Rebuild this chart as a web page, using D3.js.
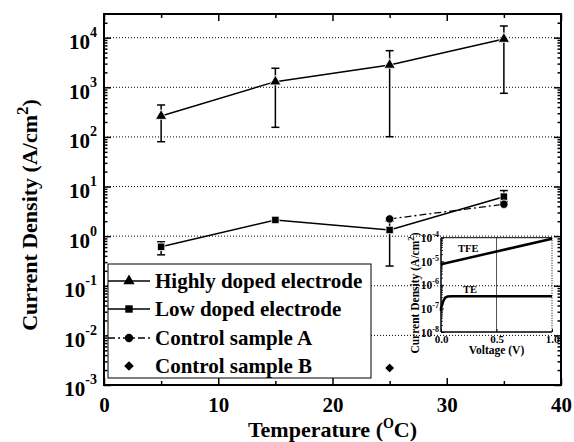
<!DOCTYPE html>
<html>
<head>
<meta charset="utf-8">
<script src="https://cdn.jsdelivr.net/npm/d3@7"></script>
<style>
body { margin: 0; background: #fff; }
svg, svg text { font-family: "Liberation Serif", "Times New Roman", Times, serif; font-weight: bold; }
</style>
</head>
<body>
<svg id="chart" width="574" height="442" font-family="Liberation Serif, Times New Roman, serif" font-weight="bold"></svg>
<script>
// main plot data
const temps = [5, 15, 25, 35];
const highVals = [263, 1300, 2820, 9400];
const highErrLo = [80, 156, 101, 757];
const highErrHi = [440, 2420, 5470, 17200];
const lowVals = [0.61, 2.12, 1.33, 6.25];
const lowErrLo = [0.42, null, 0.25, 5.0];
const lowErrHi = [0.77, null, 2.0, 8.3];
const ctrlATemps = [25, 35];
const ctrlAVals = [2.22, 4.4];
const ctrlBTemps = [25];
const ctrlBVals = [0.0022];

const xTicks = [0, 10, 20, 30, 40];
const xMinorTicks = [5, 15, 25, 35];
const yDecades = [1e-3, 1e-2, 1e-1, 1, 10, 100, 1e3, 1e4];

const legendLabels = ["Highly doped electrode", "Low doped electrode", "Control sample A", "Control sample B"];

// inset data
const tfeV = [0, 0.5, 1.0];
const tfeJ = [7.5e-6, 2.6e-5, 9e-5];
const teV = [0, 0, 0.006, 0.021, 0.039, 0.06, 0.1, 1.0];
const teJ = [8e-8, 1.05e-7, 1.2e-7, 2.1e-7, 2.9e-7, 3.2e-7, 3.3e-7, 3.3e-7];
const insetDecades = [1e-8, 1e-7, 1e-6, 1e-5, 1e-4];
const insetXTicks = [0, 0.5, 1.0];

const FONT = "Liberation Serif, Times New Roman, serif";

const svg = d3.select("#chart");

const x = d3.scaleLinear().domain([0, 40]).range([104, 561]);
const y = d3.scaleLog().domain([1e-3, 3e4]).range([385, 14]);

// dotted grid
svg.append("g")
    .selectAll("line")
    .data(yDecades.filter(d => d > 1e-3))
    .join("line")
    .attr("x1", x(0)).attr("x2", x(40))
    .attr("y1", d => y(d)).attr("y2", d => y(d))
    .attr("stroke", "#000")
    .attr("stroke-width", 1)
    .attr("stroke-dasharray", "1,2");

// minor log ticks 2..9 per decade
let yMinor = [];
yDecades.forEach(d => {
    for (let k = 2; k <= 9; k++) {
        if (k * d < 3e4) yMinor.push(k * d);
    }
});

function styleAxis(g) {
    g.attr("font-family", FONT).attr("font-size", null);
    g.select(".domain").remove();
    g.selectAll(".tick line").attr("stroke", "#000").attr("stroke-width", 1.5);
}

// bottom axis
svg.append("g")
    .attr("transform", `translate(0,${y(1e-3)})`)
    .call(d3.axisBottom(x).tickValues(xTicks).tickSizeInner(-7).tickSizeOuter(0).tickPadding(12).tickFormat(d3.format("d")))
    .call(styleAxis)
    .call(g => g.selectAll(".tick text").attr("font-size", 21).attr("fill", "#000"));
svg.append("g")
    .attr("transform", `translate(0,${y(1e-3)})`)
    .call(d3.axisBottom(x).tickValues(xMinorTicks).tickSizeInner(-4).tickSizeOuter(0).tickFormat(""))
    .call(styleAxis);

// top axis
svg.append("g")
    .attr("transform", `translate(0,${y(3e4)})`)
    .call(d3.axisTop(x).tickValues(xTicks).tickSizeInner(-7).tickSizeOuter(0).tickFormat(""))
    .call(styleAxis);
svg.append("g")
    .attr("transform", `translate(0,${y(3e4)})`)
    .call(d3.axisTop(x).tickValues(xMinorTicks).tickSizeInner(-4).tickSizeOuter(0).tickFormat(""))
    .call(styleAxis);

// left axis with 10^n labels
svg.append("g")
    .attr("transform", `translate(${x(0)},0)`)
    .call(d3.axisLeft(y).tickValues(yDecades).tickSizeInner(-7).tickSizeOuter(0).tickPadding(7).tickFormat(d => d))
    .call(styleAxis)
    .call(g => g.selectAll(".tick text").each(function (d) {
        const t = d3.select(this).text(null).attr("font-size", 21).attr("fill", "#000").attr("dy", "0.52em");
        t.append("tspan").text("10");
        t.append("tspan").attr("font-size", 14).attr("dy", -12).text(Math.round(Math.log10(d)));
    }));
svg.append("g")
    .attr("transform", `translate(${x(0)},0)`)
    .call(d3.axisLeft(y).tickValues(yMinor).tickSizeInner(-3.5).tickSizeOuter(0).tickFormat(""))
    .call(styleAxis);

// right axis
svg.append("g")
    .attr("transform", `translate(${x(40)},0)`)
    .call(d3.axisRight(y).tickValues(yDecades).tickSizeInner(-7).tickSizeOuter(0).tickFormat(""))
    .call(styleAxis);
svg.append("g")
    .attr("transform", `translate(${x(40)},0)`)
    .call(d3.axisRight(y).tickValues(yMinor).tickSizeInner(-3.5).tickSizeOuter(0).tickFormat(""))
    .call(styleAxis);

// frame
svg.append("rect")
    .attr("x", x(0)).attr("y", y(3e4))
    .attr("width", x(40) - x(0)).attr("height", y(1e-3) - y(3e4))
    .attr("fill", "none").attr("stroke", "#000").attr("stroke-width", 2);

// axis titles
svg.append("text")
    .attr("x", (x(0) + x(40)) / 2).attr("y", 437)
    .attr("text-anchor", "middle").attr("font-size", 22)
    .call(t => {
        t.append("tspan").text("Temperature (");
        t.append("tspan").attr("font-size", 14).attr("dy", -9).text("O");
        t.append("tspan").attr("dy", 9).text("C)");
    });

svg.append("text")
    .attr("transform", "translate(37,215) rotate(-90)")
    .attr("text-anchor", "middle").attr("font-size", 22)
    .call(t => {
        t.append("tspan").text("Current Density (A/cm");
        t.append("tspan").attr("font-size", 17).attr("dy", -9).text("2");
        t.append("tspan").attr("dy", 9).text(")");
    });

// ---------- inset ----------
const xi = d3.scaleLinear().domain([0, 1]).range([441, 552]);
const yi = d3.scaleLog().domain([1e-8, 1e-4]).range([332, 237.7]);

const inset = svg.append("g");

inset.append("line")
    .attr("x1", xi(0.5)).attr("x2", xi(0.5)).attr("y1", yi(1e-4)).attr("y2", yi(1e-8))
    .attr("stroke", "#555").attr("stroke-width", 1);

inset.append("line")
    .attr("x1", xi(0)).attr("x2", xi(1)).attr("y1", yi(1e-4)).attr("y2", yi(1e-4))
    .attr("stroke", "#000").attr("stroke-width", 1);
inset.append("line")
    .attr("x1", xi(1)).attr("x2", xi(1)).attr("y1", yi(1e-4)).attr("y2", yi(1e-8))
    .attr("stroke", "#000").attr("stroke-width", 1).attr("stroke-dasharray", "1,1.5");

let yiMinor = [];
insetDecades.forEach(d => {
    for (let k = 2; k <= 9; k++) {
        if (k * d < 1e-4) yiMinor.push(k * d);
    }
});

inset.append("g")
    .attr("transform", `translate(${xi(0)},0)`)
    .call(d3.axisLeft(yi).tickValues(yiMinor).tickSizeInner(-2).tickSizeOuter(0).tickFormat(""))
    .call(styleAxis)
    .call(g => g.selectAll(".tick line").attr("stroke-width", 0.8));

inset.append("g")
    .attr("transform", `translate(${xi(0)},0)`)
    .call(d3.axisLeft(yi).tickValues(insetDecades).tickSizeInner(-3).tickSizeOuter(0).tickPadding(2).tickFormat(d => d))
    .call(styleAxis)
    .call(g => g.selectAll(".tick line").attr("stroke-width", 1))
    .call(g => g.selectAll(".tick text").each(function (d) {
        const t = d3.select(this).text(null).attr("font-size", 11.5).attr("fill", "#000").attr("dy", "0.35em");
        t.append("tspan").text("10");
        t.append("tspan").attr("font-size", 8).attr("dy", -5).text(Math.round(Math.log10(d)));
    }))
    .call(g => g.append("line")
        .attr("x1", 0).attr("x2", 0).attr("y1", yi(1e-4)).attr("y2", yi(1e-8))
        .attr("stroke", "#000").attr("stroke-width", 1.5));

inset.append("g")
    .attr("transform", `translate(0,${yi(1e-8)})`)
    .call(d3.axisBottom(xi).tickValues(insetXTicks).tickSizeInner(-3).tickSizeOuter(0).tickPadding(3).tickFormat(d3.format(".1f")))
    .call(styleAxis)
    .call(g => g.selectAll(".tick line").attr("stroke-width", 1))
    .call(g => g.selectAll(".tick text").attr("font-size", 11).attr("fill", "#000"))
    .call(g => g.append("line")
        .attr("x1", xi(0)).attr("x2", xi(1)).attr("y1", 0).attr("y2", 0)
        .attr("stroke", "#000").attr("stroke-width", 1.5));

const insetLine = d3.line().x(d => xi(d[0])).y(d => yi(d[1]));

inset.append("path")
    .attr("d", insetLine(d3.zip(tfeV, tfeJ)))
    .attr("fill", "none").attr("stroke", "#000").attr("stroke-width", 2.5);
inset.append("path")
    .attr("d", insetLine(d3.zip(teV, teJ)))
    .attr("fill", "none").attr("stroke", "#000").attr("stroke-width", 2.5);

inset.append("text").attr("x", 458).attr("y", 252).attr("font-size", 10.5).text("TFE");
inset.append("text").attr("x", 470).attr("y", 293).attr("font-size", 10.5).attr("text-anchor", "middle").text("TE");

inset.append("text")
    .attr("x", (xi(0) + xi(1)) / 2).attr("y", 354)
    .attr("text-anchor", "middle").attr("font-size", 11.5)
    .text("Voltage (V)");

inset.append("text")
    .attr("transform", "translate(419,293) rotate(-90)")
    .attr("text-anchor", "middle").attr("font-size", 11.5)
    .call(t => {
        t.append("tspan").text("Current Density (A/cm");
        t.append("tspan").attr("font-size", 9).attr("dy", -5).text("2");
        t.append("tspan").attr("dy", 5).text(")");
    });

// ---------- data ----------
const line = d3.line().x(d => x(d[0])).y(d => y(d[1]));

svg.append("path")
    .attr("d", line(d3.zip(temps, highVals)))
    .attr("fill", "none").attr("stroke", "#000").attr("stroke-width", 1.5);
svg.append("path")
    .attr("d", line(d3.zip(temps, lowVals)))
    .attr("fill", "none").attr("stroke", "#000").attr("stroke-width", 1.5);
svg.append("path")
    .attr("d", line(d3.zip(ctrlATemps, ctrlAVals)))
    .attr("fill", "none").attr("stroke", "#000").attr("stroke-width", 1.3)
    .attr("stroke-dasharray", "7,3,2,3");

function errorBars(lo, hi) {
    const g = svg.append("g").attr("stroke", "#000").attr("stroke-width", 1.5);
    temps.forEach((t, i) => {
        if (lo[i] == null) return;
        g.append("line").attr("x1", x(t)).attr("x2", x(t)).attr("y1", y(lo[i])).attr("y2", y(hi[i]));
        g.append("line").attr("x1", x(t) - 4).attr("x2", x(t) + 4).attr("y1", y(lo[i])).attr("y2", y(lo[i]));
        g.append("line").attr("x1", x(t) - 4).attr("x2", x(t) + 4).attr("y1", y(hi[i])).attr("y2", y(hi[i]));
    });
}
errorBars(highErrLo, highErrHi);
errorBars(lowErrLo, lowErrHi);

function markers(xs, vs, type, size) {
    svg.append("g")
        .selectAll("path")
        .data(d3.zip(xs, vs))
        .join("path")
        .attr("transform", d => `translate(${x(d[0])},${y(d[1])})`)
        .attr("d", d3.symbol().type(type).size(size))
        .attr("fill", "#000")
        .attr("stroke", "#fff")
        .attr("stroke-width", 0.8);
}
markers(temps, highVals, d3.symbolTriangle, 55);
markers(temps, lowVals, d3.symbolSquare, 55);
markers(ctrlATemps, ctrlAVals, d3.symbolCircle, 55);
markers(ctrlBTemps, ctrlBVals, d3.symbolDiamond2, 60);

// ---------- legend ----------
const legend = svg.append("g");
legend.append("rect")
    .attr("x", 108).attr("y", 264).attr("width", 263).attr("height", 114)
    .attr("fill", "#fff").attr("stroke", "#000").attr("stroke-width", 1);

const legendY = [281, 309, 338, 366];
const legendSymbols = [d3.symbolTriangle, d3.symbolSquare, d3.symbolCircle, d3.symbolDiamond2];
const legendDash = [null, null, "7,3,2,3", "none"];

legendLabels.forEach((label, i) => {
    if (legendDash[i] !== "none") {
        legend.append("line")
            .attr("x1", 108).attr("x2", 150).attr("y1", legendY[i]).attr("y2", legendY[i])
            .attr("stroke", "#000").attr("stroke-width", 1.5)
            .attr("stroke-dasharray", legendDash[i]);
    }
    legend.append("path")
        .attr("transform", `translate(129,${legendY[i]})`)
        .attr("d", d3.symbol().type(legendSymbols[i]).size(i === 3 ? 60 : 55))
        .attr("fill", "#000");
    legend.append("text")
        .attr("x", 155).attr("y", legendY[i] + 7)
        .attr("font-size", 21)
        .attr("font-family", FONT)
        .text(label);
});
</script>
</body>
</html>
